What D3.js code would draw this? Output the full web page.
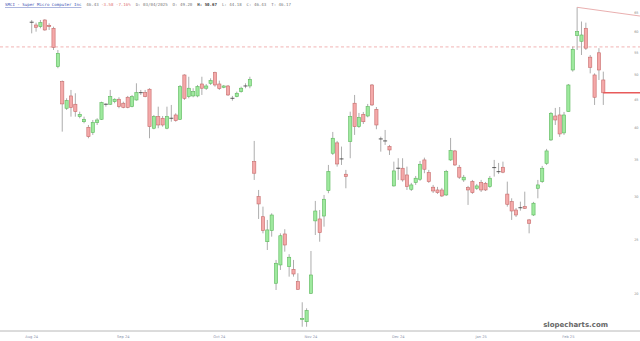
<!DOCTYPE html>
<html>
<head>
<meta charset="utf-8">
<script src="https://cdn.jsdelivr.net/npm/d3@7/dist/d3.min.js"></script>
<style>
  html, body { margin: 0; padding: 0; background: #fff; }
  svg { display: block; }
</style>
</head>
<body>
<div id="viz"><svg></svg></div>
<script>
const W = 640, H = 341;

// daily candles, Aug 2024 - Feb 2025
const open = [
  62.25, 61.73, 61.29, 63.04, 61.60, 60.88, 51.82, 48.65, 43.51, 45.82,
  44.25, 42.00, 41.12, 40.17, 39.27, 40.95, 41.54, 44.19, 44.25, 44.73,
  45.19, 44.44, 45.57, 43.80, 45.05, 46.42, 46.46, 47.13, 40.01, 42.00,
  41.72, 40.01, 41.66, 42.30, 41.54, 50.04, 45.69, 45.82, 45.82, 48.18,
  47.33, 48.32, 50.53, 48.18, 47.52, 47.78, 45.33, 45.69, 46.65, 47.74,
  47.78, 34.77, 30.01, 27.59, 24.84, 26.02, 20.86, 22.53, 25.66, 22.37,
  22.12, 21.00, 17.92, 17.75, 20.00, 27.11, 27.33, 27.67, 30.78, 36.02,
  37.62, 35.14, 32.98, 37.82, 44.44, 40.27, 42.42, 42.12, 47.98, 43.32,
  38.22, 37.90, 37.04, 31.40, 33.79, 33.82, 32.88, 30.96, 31.85, 32.29,
  35.02, 33.21, 31.23, 30.87, 30.87, 30.23, 35.02, 36.37, 33.96, 32.20,
  31.17, 31.97, 31.09, 31.85, 31.75, 31.31, 33.86, 33.31, 33.96, 30.34,
  29.39, 28.38, 28.62, 28.78, 27.22, 27.79, 31.09, 31.97, 34.53, 38.09,
  42.12, 42.30, 39.23, 42.89, 51.10, 59.02, 57.65, 60.88, 53.93, 50.04,
  54.93, 49.00
];
const high = [
  63.04, 62.33, 63.04, 63.23, 62.17, 61.29, 55.58, 48.90, 45.37, 46.99,
  46.34, 42.89, 42.00, 40.56, 41.42, 41.72, 44.73, 44.44, 46.99, 45.37,
  45.57, 44.73, 45.82, 46.01, 48.32, 46.99, 46.99, 47.33, 42.30, 43.80,
  42.12, 43.80, 44.12, 42.60, 47.98, 50.19, 49.67, 47.33, 47.98, 49.67,
  48.18, 49.34, 50.74, 48.86, 47.98, 47.98, 45.82, 46.65, 47.64, 48.32,
  49.67, 37.93, 30.87, 28.78, 27.22, 27.99, 23.01, 25.73, 26.18, 23.57,
  23.01, 21.76, 19.26, 18.78, 23.89, 29.48, 28.38, 30.23, 34.29, 39.39,
  37.93, 37.04, 33.58, 42.89, 46.01, 42.66, 42.84, 44.31, 48.18, 43.74,
  38.62, 39.72, 37.30, 34.77, 35.27, 35.27, 34.05, 31.80, 32.74, 34.87,
  35.36, 33.58, 31.53, 31.27, 31.14, 33.58, 38.41, 36.52, 34.29, 32.88,
  31.40, 32.20, 31.66, 32.20, 31.93, 32.74, 35.02, 34.58, 34.77, 31.97,
  29.81, 28.62, 29.39, 30.65, 27.33, 29.36, 32.20, 34.15, 36.68, 42.84,
  43.57, 43.74, 42.84, 48.18, 56.37, 66.49, 62.64, 62.33, 54.42, 50.38,
  56.00, 50.74
];
const low = [
  59.60, 60.02, 60.88, 60.27, 60.45, 55.58, 51.47, 39.44, 43.20, 42.00,
  42.00, 41.72, 40.85, 38.36, 38.90, 40.56, 41.42, 43.80, 44.12, 44.44,
  43.51, 43.51, 43.51, 43.68, 44.92, 46.01, 45.57, 38.36, 39.84, 40.01,
  40.27, 39.84, 41.12, 41.12, 41.42, 45.05, 45.37, 45.57, 45.57, 46.01,
  46.99, 47.98, 47.64, 46.99, 47.33, 45.82, 44.92, 45.57, 46.46, 47.33,
  47.33, 32.20, 27.33, 25.73, 23.99, 25.37, 20.28, 22.06, 23.82, 21.45,
  21.45, 20.30, 17.38, 17.38, 19.94, 25.55, 24.84, 26.46, 30.45, 35.76,
  34.05, 34.29, 31.09, 35.27, 38.90, 40.06, 40.73, 41.89, 43.93, 39.84,
  36.26, 37.30, 35.76, 31.31, 32.20, 31.97, 30.87, 30.74, 31.53, 32.07,
  33.12, 31.80, 30.48, 30.36, 29.98, 30.10, 34.87, 34.15, 32.33, 31.93,
  28.99, 30.36, 30.87, 30.61, 30.74, 31.14, 32.65, 33.02, 33.12, 28.78,
  27.22, 27.56, 28.30, 28.50, 25.73, 27.67, 29.81, 31.80, 34.29, 37.93,
  40.56, 38.58, 38.90, 42.84, 50.74, 55.58, 54.42, 55.58, 50.38, 44.12,
  49.00, 44.12
];
const close = [
  62.45, 61.14, 62.33, 60.45, 61.29, 56.21, 54.81, 44.31, 44.92, 43.62,
  42.89, 42.42, 41.54, 38.62, 40.95, 41.42, 44.54, 44.25, 45.69, 45.19,
  43.80, 43.68, 43.68, 45.69, 46.46, 46.46, 45.69, 40.27, 42.00, 40.56,
  40.56, 42.00, 41.72, 41.30, 47.64, 45.37, 47.33, 46.65, 47.64, 47.33,
  47.78, 48.86, 47.98, 47.25, 47.78, 46.01, 45.37, 46.34, 47.33, 47.78,
  49.14, 33.12, 29.11, 26.02, 26.10, 27.79, 22.69, 25.47, 24.50, 23.27,
  21.69, 20.34, 18.00, 18.60, 21.60, 28.26, 25.80, 29.69, 33.35, 38.36,
  34.43, 35.17, 32.65, 42.00, 40.27, 41.83, 41.12, 43.80, 44.12, 40.56,
  38.25, 37.93, 36.52, 33.44, 33.82, 32.20, 31.31, 31.53, 32.43, 34.39,
  33.68, 31.97, 30.74, 30.52, 30.10, 33.34, 36.41, 34.29, 32.57, 32.57,
  30.87, 30.52, 31.40, 30.87, 30.87, 32.43, 33.91, 33.34, 33.26, 29.07,
  28.26, 27.79, 28.65, 28.58, 26.84, 29.20, 31.53, 33.82, 36.37, 42.60,
  41.42, 39.06, 42.30, 47.98, 55.74, 60.02, 59.19, 56.00, 51.68, 45.57,
  51.10, 46.43
];

const monthLabels = ['Aug 24', 'Sep 24', 'Oct 24', 'Nov 24', 'Dec 24', 'Jan 25', 'Feb 25'];
const monthIndex  = [0, 21, 43, 64, 84, 103, 123];
const priceTicks  = [65, 60, 55, 50, 45, 40, 35, 30, 25, 20];

const levelLine = 56.3;                       // dashed horizontal
const trendLine = [{i: 125, p: 66.49}, {i: 139.4, p: 64.1}];
const lastPrice = 46.43;

const titleParts = [
  {t: 'SMCI - Super Micro Computer Inc', c: '#3a4fb0', u: true},
  {t: '  46.43 ', c: '#777'},
  {t: '-3.58 -7.16%', c: '#e07070'},
  {t: '  D: 03/04/2025  O: 49.20  ', c: '#777'},
  {t: 'H: 50.67', c: '#444', b: true},
  {t: '  L: 44.18  C: 46.43  T: 46.17', c: '#777'}
];

const COLOR = {
  upFill: '#9ee99e', upLine: '#5cb85c',
  dnFill: '#f4a9a9', dnLine: '#c76a6a',
  wick: '#8a8a8a', doji: '#333'
};

const data = open.map((o, i) => ({i, o, h: high[i], l: low[i], c: close[i]}));

const svg = d3.select('#viz').select('svg')
  .attr('width', W)
  .attr('height', H);

const x = d3.scaleLinear().domain([0, data.length - 1]).range([31.7, 603.3]);
const y = d3.scaleLog().domain([20, 65]).range([293.3, 12.7]);

// dashed level line
svg.append('line')
  .attr('x1', 0).attr('x2', W)
  .attr('y1', y(levelLine)).attr('y2', y(levelLine))
  .attr('stroke', '#eda0a0')
  .attr('stroke-width', 0.8)
  .attr('stroke-dasharray', '3,2.5');

// x axis line
svg.append('line')
  .attr('x1', 0).attr('x2', W)
  .attr('y1', 331).attr('y2', 331)
  .attr('stroke', '#b8b8b8')
  .attr('stroke-width', 1);

svg.selectAll('.xlab')
  .data(monthLabels)
  .enter()
  .append('text')
  .attr('class', 'xlab')
  .attr('x', (d, i) => x(monthIndex[i]))
  .attr('y', 337.5)
  .attr('text-anchor', 'middle')
  .attr('font-family', 'DejaVu Sans')
  .attr('font-size', 3.6)
  .attr('fill', '#8890a8')
  .text(d => d);

// right price labels, squeezed against the window edge
svg.selectAll('.ylab')
  .data(priceTicks)
  .enter()
  .append('text')
  .attr('class', 'ylab')
  .attr('x', 638.5)
  .attr('y', d => y(d) + 1.2)
  .attr('text-anchor', 'end')
  .attr('font-family', 'DejaVu Sans')
  .attr('font-size', 3.4)
  .attr('fill', '#888')
  .text(d => d);

// wicks
svg.selectAll('.wick')
  .data(data)
  .enter()
  .append('line')
  .attr('class', 'wick')
  .attr('x1', d => x(d.i)).attr('x2', d => x(d.i))
  .attr('y1', d => y(d.h)).attr('y2', d => y(d.l))
  .attr('stroke', COLOR.wick)
  .attr('stroke-width', 0.7);

const isDoji = d => Math.abs(y(d.o) - y(d.c)) < 1;
const bw = 3.2;

svg.selectAll('.body')
  .data(data.filter(d => !isDoji(d)))
  .enter()
  .append('rect')
  .attr('class', 'body')
  .attr('x', d => x(d.i) - bw / 2)
  .attr('y', d => y(Math.max(d.o, d.c)))
  .attr('width', bw)
  .attr('height', d => Math.abs(y(d.o) - y(d.c)))
  .attr('fill', d => d.c >= d.o ? COLOR.upFill : COLOR.dnFill)
  .attr('stroke', d => d.c >= d.o ? COLOR.upLine : COLOR.dnLine)
  .attr('stroke-width', 0.6);

svg.selectAll('.doji')
  .data(data.filter(isDoji))
  .enter()
  .append('line')
  .attr('class', 'doji')
  .attr('x1', d => x(d.i) - 2).attr('x2', d => x(d.i) + 2)
  .attr('y1', d => y(d.c)).attr('y2', d => y(d.c))
  .attr('stroke', COLOR.doji)
  .attr('stroke-width', 0.8);

// trend line from the spike high
svg.append('line')
  .attr('x1', x(trendLine[0].i)).attr('y1', y(trendLine[0].p))
  .attr('x2', x(trendLine[1].i)).attr('y2', y(trendLine[1].p))
  .attr('stroke', '#e39a9a')
  .attr('stroke-width', 0.8);

// last price line
svg.append('line')
  .attr('x1', x(data.length - 1)).attr('x2', W)
  .attr('y1', y(lastPrice)).attr('y2', y(lastPrice))
  .attr('stroke', '#e85a5a')
  .attr('stroke-width', 1.4);

// title
const title = svg.append('text')
  .attr('x', 5)
  .attr('y', 6)
  .attr('font-family', 'DejaVu Sans Mono')
  .attr('font-size', 4.1)
  .attr('style', 'white-space: pre');
titleParts.forEach(p => {
  title.append('tspan')
    .attr('fill', p.c)
    .attr('font-weight', p.b ? 'bold' : null)
    .attr('text-decoration', p.u ? 'underline' : null)
    .text(p.t);
});

// watermark
svg.append('text')
  .attr('x', 608)
  .attr('y', 327)
  .attr('text-anchor', 'end')
  .attr('font-family', 'DejaVu Sans')
  .attr('font-weight', 'bold')
  .attr('font-size', 7)
  .attr('fill', '#666')
  .text('slopecharts.com');
</script>
</body>
</html>
